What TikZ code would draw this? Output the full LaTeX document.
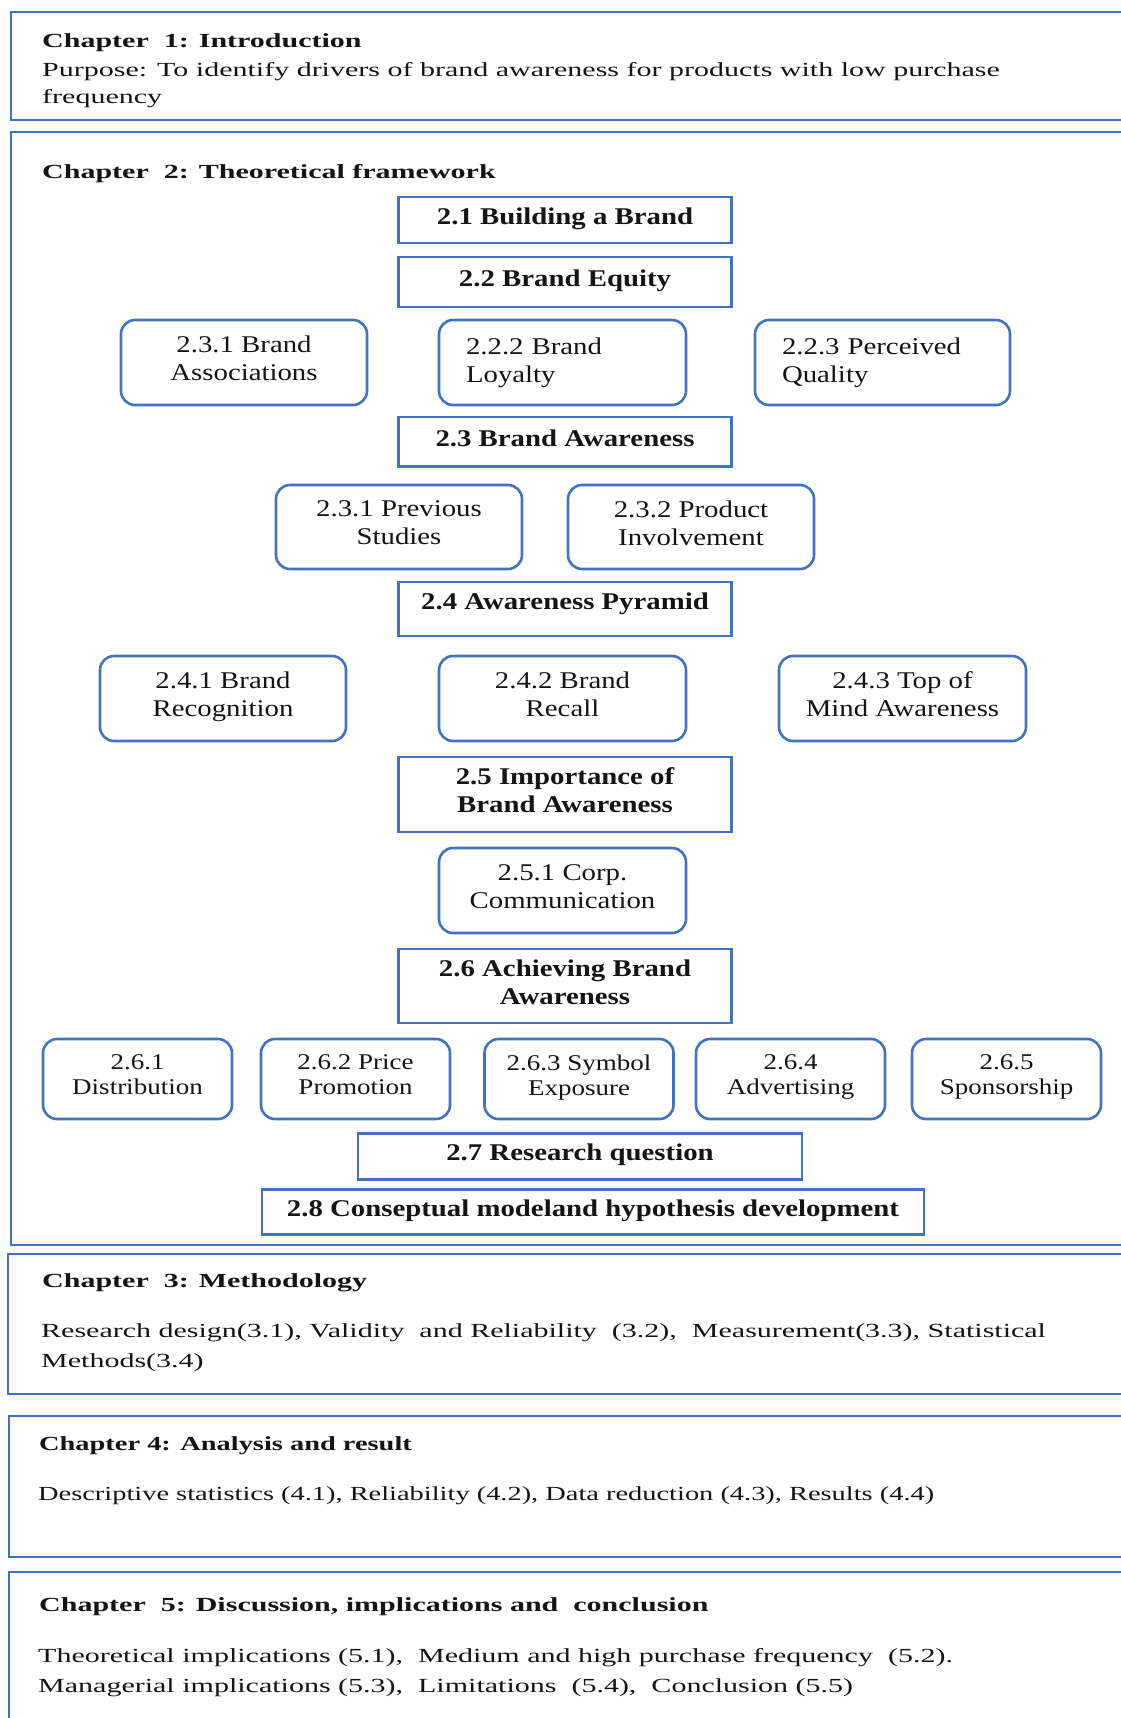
\documentclass[tikz,border=0pt]{standalone}
\usepackage{fontspec}
\setmainfont{Liberation Serif}
% wide serif faces for the chapter texts and for the section boxes
\newfontfamily\chapfont[FakeStretch=1.5]{Liberation Serif}
\newfontfamily\chapfontb[FakeStretch=1.42]{Liberation Serif}
\newfontfamily\itemfont[FakeStretch=1.2]{Liberation Serif}
\definecolor{frameblue}{RGB}{66,115,192}
\definecolor{ink}{RGB}{20,20,20}
\begin{document}
\begin{tikzpicture}[x=1pt,y=-1pt,
  frame/.style={draw=frameblue,line width=2.6pt},
  chaptitle/.style={anchor=base west,inner sep=0pt,text=ink,font=\chapfont\bfseries\fontsize{20}{27}\selectfont},
  chaptext/.style={anchor=base west,inner sep=0pt,text=ink,font=\chapfont\fontsize{20}{27}\selectfont},
  headbox/.style={frame,inner sep=0pt,align=center,text depth=8pt,text=ink,font=\itemfont\bfseries\fontsize{24}{28}\selectfont},
  subbox/.style={frame,rounded corners=14pt,inner sep=0pt,align=center,text depth=8pt,text=ink,font=\itemfont\fontsize{24}{28}\selectfont},
  leftbox/.style={subbox,align=left,inner xsep=27pt,text depth=},
  smallbox/.style={subbox,minimum width=189pt,minimum height=80pt,font=\itemfont\fontsize{22.5}{25}\selectfont},
]
\clip (0,0) rectangle (1121,1718);
\fill[white] (0,0) rectangle (1121,1718);

% chapter frames (open to the right)
\draw[frame] (11,12) rectangle (1140,120);
\draw[frame] (11,132) rectangle (1140,1245);
\draw[frame] (8,1254) rectangle (1140,1394);
\draw[frame] (9,1416) rectangle (1140,1557);
\draw[frame] (9,1572) rectangle (1140,1740);

% chapter 1
\node[chaptitle] (c1t) at (42,48) {Chapter\ \ 1: Introduction};
\node[chaptext] (c1a) at (42,77) {Purpose: To identify drivers of brand awareness for products with low purchase};
\node[chaptext] (c1b) at (42,104) {frequency};

% chapter 2
\node[chaptitle] (c2t) at (42,178) {Chapter\ \ 2: Theoretical framework};

\node[headbox,minimum width=333pt,minimum height=46pt] (s21) at (565,220) {2.1 Building a Brand};
\node[headbox,minimum width=333pt,minimum height=50pt] (s22) at (565,282) {2.2 Brand Equity};

\node[subbox,minimum width=246pt,minimum height=85pt] (s221) at (244,362.5) {2.3.1 Brand\\Associations};
\node[leftbox,text width=193pt,minimum height=85pt] (s222) at (562.5,362.5) {2.2.2 Brand\\Loyalty};
\node[leftbox,text width=201pt,minimum height=85pt] (s223) at (882.5,362.5) {2.2.3 Perceived\\Quality};

\node[headbox,minimum width=333pt,minimum height=49.5pt] (s23) at (565,441.75) {2.3 Brand Awareness};

\node[subbox,minimum width=246pt,minimum height=84pt] (s231) at (399,527) {2.3.1 Previous\\Studies};
\node[subbox,minimum width=246pt,minimum height=84pt] (s232) at (691,527) {2.3.2 Product\\Involvement};

\node[headbox,minimum width=333pt,minimum height=54pt] (s24) at (565,609) {\raisebox{8pt}{2.4 Awareness Pyramid}};

\node[subbox,minimum width=246pt,minimum height=85pt] (s241) at (223,698.5) {2.4.1 Brand\\Recognition};
\node[subbox,minimum width=247pt,minimum height=85pt] (s242) at (562.5,698.5) {2.4.2 Brand\\Recall};
\node[subbox,minimum width=247pt,minimum height=85pt] (s243) at (902.5,698.5) {2.4.3 Top of\\Mind Awareness};

\node[headbox,minimum width=333pt,minimum height=75pt] (s25) at (565,794.5) {2.5 Importance of\\Brand Awareness};
\node[subbox,minimum width=247pt,minimum height=85pt] (s251) at (562.5,890.5) {2.5.1 Corp.\\Communication};

\node[headbox,minimum width=333pt,minimum height=74pt] (s26) at (565,986) {2.6 Achieving Brand\\Awareness};

\node[smallbox] (s261) at (137.5,1079) {2.6.1\\Distribution};
\node[smallbox] (s262) at (355.5,1079) {2.6.2 Price\\Promotion};
\node[smallbox] (s263) at (579,1079) {2.6.3 Symbol\\Exposure};
\node[smallbox] (s264) at (790.5,1079) {2.6.4\\Advertising};
\node[smallbox] (s265) at (1006.5,1079) {2.6.5\\Sponsorship};

\node[headbox,minimum width=444pt,minimum height=45.5pt] (s27) at (580,1156.5) {2.7 Research question};
\node[headbox,minimum width=662pt,minimum height=45pt] (s28) at (593,1212) {2.8 Conseptual modeland hypothesis development};

% chapter 3
\node[chaptitle] (c3t) at (42,1287) {Chapter\ \ 3: Methodology};
\node[chaptext] (c3a) at (41,1337) {Research design(3.1), Validity\ \ and Reliability\ \ (3.2),\ \ Measurement(3.3), Statistical};
\node[chaptext] (c3b) at (41,1367) {Methods(3.4)};

% chapter 4
\node[chaptitle,font=\chapfontb\bfseries\fontsize{20}{27}\selectfont] (c4t) at (39,1450) {Chapter 4: Analysis and result};
\node[chaptext,font=\chapfontb\fontsize{20}{27}\selectfont] (c4a) at (38,1500) {Descriptive statistics (4.1), Reliability (4.2), Data reduction (4.3), Results (4.4)};

% chapter 5
\node[chaptitle] (c5t) at (39,1611) {Chapter\ \ 5: Discussion, implications and\ \ conclusion};
\node[chaptext] (c5a) at (38,1662) {Theoretical implications (5.1),\ \ Medium and high purchase frequency\ \ (5.2).};
\node[chaptext] (c5b) at (38,1692) {Managerial implications (5.3),\ \ Limitations\ \ (5.4),\ \ Conclusion (5.5)};
\end{tikzpicture}
\end{document}
